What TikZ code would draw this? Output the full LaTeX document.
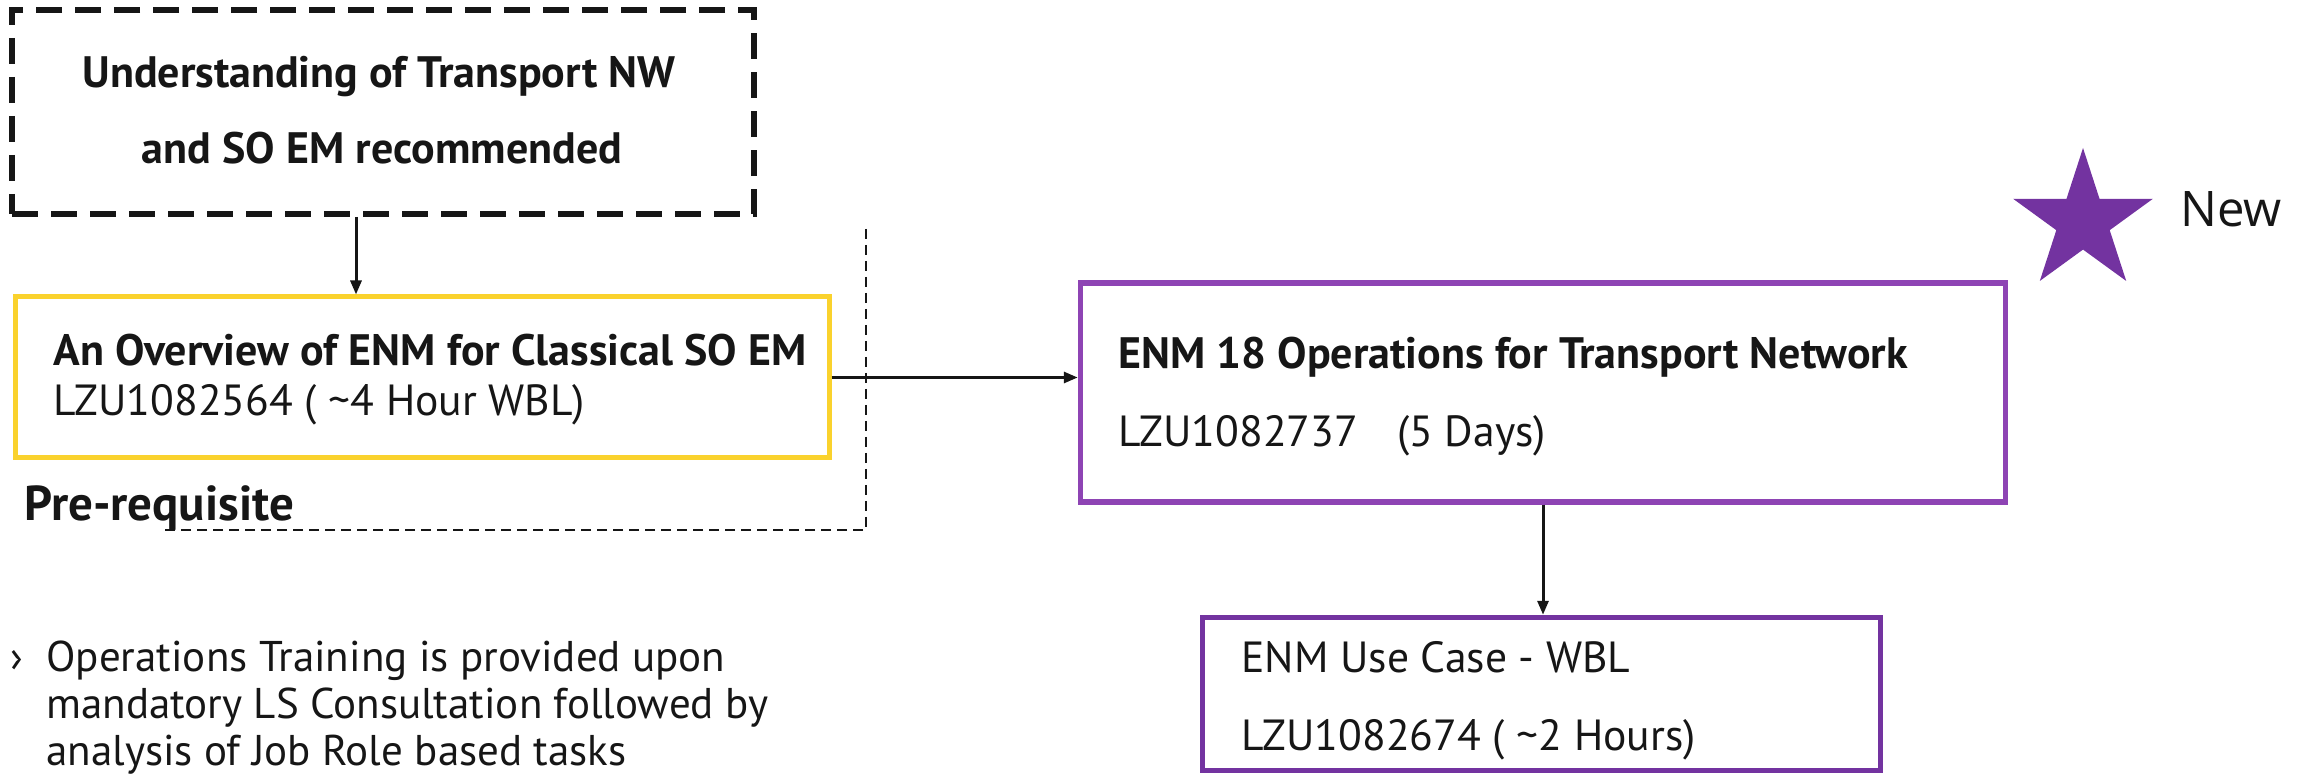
\documentclass[tikz,border=0pt]{standalone}
\usepackage{fontspec}
\setmainfont{PT Sans}
\newfontfamily\newlabelfont{Open Sans}
\usetikzlibrary{arrows.meta,shapes.geometric}
\definecolor{ey}{HTML}{FAD22D}
\definecolor{ep}{HTML}{8E44B4}
\definecolor{ep2}{HTML}{7333A0}
\definecolor{txt}{HTML}{161616}
\tikzset{
  box/.style={draw, inner sep=0pt, fill=none},
  arr/.style={draw=txt, line width=1.5pt, -{Triangle[length=7pt,width=5.5pt]}},
  t/.style={anchor=base west, inner sep=0pt, text=txt, font=\fontsize{21.8}{26}\selectfont},
  tb/.style={t, font=\fontsize{22}{26}\selectfont\bfseries},
  tc/.style={tb, anchor=base},
  tbul/.style={t, font=\fontsize{21.5}{26}\selectfont},
}
\begin{document}
\begin{tikzpicture}[x=0.5pt,y=-0.5pt]
\useasboundingbox (0,0) rectangle (2312,774);
% boxes
\node[box, line width=3pt, dash pattern=on 13pt off 6.5pt, draw=txt,
  minimum width=371pt, minimum height=102pt] (pre) at (383,112) {};
\node[box, line width=2.5pt, draw=ey, minimum width=407pt, minimum height=80.5pt] (ov) at (422,377.5) {};
\node[box, line width=2.75pt, draw=ep, minimum width=462.5pt, minimum height=109.5pt] (ops) at (1543,392.5) {};
\node[box, line width=2.75pt, draw=ep2, minimum width=339pt, minimum height=76.5pt] (use) at (1541.5,694) {};
% dashed boundary
\coordinate (d1) at (866,229);
\coordinate (d2) at (866,530);
\coordinate (d3) at (162,530);
\draw[draw=txt, line width=1pt, dash pattern=on 5pt off 3pt] (d1) -- (d2) -- (d3);
% texts
\node[tc] (u1) at (379,88) {Understanding of Transport NW};
\node[tc] (u2) at (382,164) {and SO EM recommended};
\node[tb] (o1) at (53,366) {An Overview of ENM for Classical SO EM};
\node[t] (o2) at (53,416) {LZU1082564 ( \textasciitilde4 Hour WBL)};
\node[tb, font=\fontsize{24.5}{28}\selectfont\bfseries] (pr) at (24,521) {Pre-requisite};
\node[tb] (p1) at (1118,369) {ENM 18 Operations for Transport Network};
\node[t] (p2) at (1118,447) {LZU1082737\hspace{0.9em}(5 Days)};
\node[t] (w1) at (1241,672) {ENM Use Case - WBL};
\node[t] (w2) at (1241,750) {LZU1082674 ( \textasciitilde2 Hours)};
\node[tbul] (b0) at (10,671) {›};
\node[tbul] (b1) at (46,671) {Operations Training is provided upon};
\node[tbul] (b2) at (46,718) {mandatory LS Consultation followed by};
\node[tbul] (b3) at (46,765) {analysis of Job Role based tasks};
% star legend
\node[star, star points=5, star point ratio=2.618, fill=ep2, draw=none,
  minimum size=73.5pt, inner sep=0pt] (star) at (2083,221.5) {};
\node[anchor=base west, inner sep=0pt, text=txt, font=\newlabelfont\fontsize{24.5}{28}\selectfont] (new) at (2180,227) {New};
% arrows
\coordinate (a1) at (356,0);
\draw[arr] (pre.south -| a1) -- (ov.north -| a1);
\draw[arr] (ov.east) -- (ops.west |- ov.east);
\draw[arr] (ops.south) -- (ops.south |- use.north);
\end{tikzpicture}
\end{document}
